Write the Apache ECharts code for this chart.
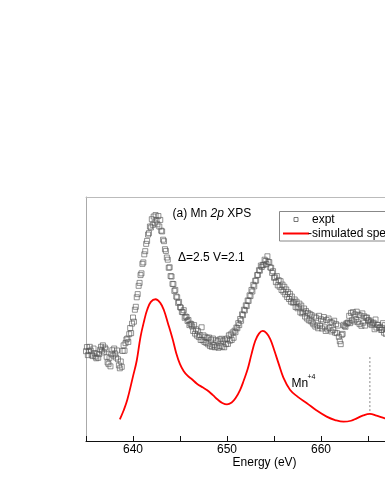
<!DOCTYPE html>
<html>
<head>
<meta charset="utf-8">
<script src="https://cdn.jsdelivr.net/npm/echarts@6/dist/echarts.min.js"></script>
<style>
html,body{margin:0;padding:0;overflow:hidden;background:#fff;}
#chart{width:460px;height:498px;}
</style>
</head>
<body>
<div id="chart"></div>
<script>
// Energy axis (eV)
const xMin = 635, xMax = 673, tickStep = 5;
// experimental spectrum: sampled every 0.1 eV starting at 635.0 eV
const exptStart = 635.0, exptStep = 0.1;
const exptIntensity = [
  36.8, 38.5, 35.2, 36.9, 38.6, 37.1, 35.4, 34.8, 37.9, 36.0,
  34.6, 33.9, 35.8, 34.1, 35.6, 37.4, 38.6, 37.0, 39.2, 36.3,
  38.3, 37.6, 34.5, 32.2, 31.5, 34.1, 30.6, 35.6, 37.2, 35.0,
  37.9, 35.8, 34.2, 37.1, 33.5, 31.0, 29.8, 32.6, 30.4, 36.9,
  39.2, 37.0, 40.1, 41.6, 42.0, 40.6, 43.8, 46.3, 44.2, 48.1,
  50.6, 48.9, 53.8, 55.0, 58.9, 60.2, 63.6, 64.8, 68.0, 68.7,
  72.6, 73.2, 76.5, 77.8, 80.8, 82.0, 84.6, 85.2, 87.9, 87.5,
  90.9, 88.6, 92.0, 89.5, 92.6, 90.4, 88.8, 92.2, 87.9, 90.6,
  86.2, 85.9, 82.5, 81.9, 78.6, 77.9, 75.2, 74.3, 71.0, 71.2,
  67.6, 67.4, 64.4, 64.3, 61.5, 61.9, 59.2, 58.9, 56.6, 57.0,
  54.9, 54.6, 52.9, 52.8, 53.6, 50.5, 51.0, 50.8, 49.2, 49.6,
  47.5, 48.1, 47.9, 46.9, 45.1, 47.5, 44.0, 45.8, 43.2, 45.1,
  42.6, 43.5, 41.4, 46.6, 41.3, 43.3, 40.6, 42.7, 40.2, 42.3,
  39.6, 42.4, 38.9, 41.5, 38.6, 42.0, 39.3, 38.4, 41.3, 38.7,
  40.9, 38.2, 41.6, 38.9, 41.9, 38.6, 41.1, 38.4, 41.6, 39.7,
  42.0, 39.8, 43.3, 41.1, 43.7, 41.4, 44.5, 42.3, 45.2, 44.6,
  46.5, 46.2, 48.3, 47.5, 50.0, 49.3, 51.9, 51.6, 53.8, 53.5,
  55.6, 55.3, 57.6, 57.4, 59.7, 59.4, 61.9, 61.3, 64.0, 63.4,
  65.7, 65.7, 68.0, 68.1, 70.0, 69.8, 71.9, 71.3, 72.2, 72.1,
  74.3, 73.8, 72.5, 75.7, 73.4, 73.3, 71.1, 71.0, 68.9, 69.6,
  66.9, 67.1, 65.1, 67.6, 63.8, 65.9, 63.2, 65.5, 61.9, 64.1,
  61.2, 63.2, 60.1, 62.1, 59.0, 61.0, 58.2, 60.3, 57.1, 59.2,
  56.7, 56.9, 58.0, 54.9, 57.1, 54.4, 55.0, 56.3, 52.7, 55.5,
  52.3, 52.8, 54.3, 51.0, 53.3, 50.2, 52.5, 49.5, 52.1, 49.1,
  51.6, 48.5, 47.8, 51.0, 46.9, 50.5, 47.4, 46.2, 51.3, 47.2,
  49.9, 46.1, 49.3, 50.8, 46.6, 45.1, 49.6, 45.7, 50.2, 46.3,
  48.8, 44.9, 48.5, 45.5, 49.3, 44.4, 47.9, 44.2, 47.3, 42.7,
  40.9, 39.7, 43.5, 43.9, 47.6, 47.1, 46.8, 48.2, 48.2, 48.6,
  51.3, 48.3, 52.5, 49.5, 52.8, 49.0, 51.9, 49.8, 53.0, 48.7,
  51.7, 47.9, 51.4, 47.2, 52.3, 48.5, 51.1, 47.3, 50.5, 50.6,
  49.4, 49.5, 48.1, 48.9, 47.5, 48.2, 48.5, 45.8, 49.8, 46.5,
  47.6, 47.5, 46.3, 46.7, 45.5, 45.6, 48.3, 44.4, 47.5, 43.9,
  46.0, 47.3, 45.2, 46.6, 44.9, 46.1, 45.5, 47.0, 44.7, 45.9,
  45.4, 46.8, 44.6, 45.9, 46.3, 44.2, 45.7, 46.5, 44.9, 45.3
];
// simulated spectrum
const simEnergy = [
  638.6, 639.0, 639.4, 640.0, 640.4, 640.8, 641.2, 641.5, 641.9, 642.4,
  642.9, 643.3, 643.7, 644.2, 644.6, 645.0, 645.4, 645.8, 646.3, 646.8,
  647.4, 647.9, 648.5, 649.0, 649.5, 650.0, 650.5, 650.9, 651.4, 651.8,
  652.2, 652.6, 653.0, 653.4, 653.8, 654.2, 654.6, 655.0, 655.5, 656.0,
  656.7, 657.5, 658.5, 659.5, 660.6, 661.5, 662.4, 663.2, 663.8, 664.5,
  665.2, 665.9, 666.8, 667.8, 669.0, 670.5, 672.0
];
const simIntensity = [
  8.9, 12.5, 17.0, 26.5, 33.0, 42.7, 49.5, 53.7, 57.0, 58.1,
  56.6, 53.5, 48.5, 42.0, 36.0, 31.5, 28.6, 26.8, 25.2, 23.5,
  22.0, 20.8, 18.8, 17.0, 15.6, 15.0, 15.8, 17.5, 21.0, 25.0,
  29.5, 35.5, 41.0, 44.0, 45.1, 44.2, 41.8, 37.5, 31.6, 26.0,
  21.0, 18.2, 15.5, 12.6, 10.0, 8.6, 7.9, 8.3, 9.3, 10.5,
  11.1, 10.4, 9.3, 8.5, 8.2, 8.4, 8.6
];
// Mn+4 marker (dashed vertical line)
const markerEnergy = 665.2;
const markerRange = [34.4, 11.1];

const exptData = exptIntensity.map((v, i) => [+(exptStart + i * exptStep).toFixed(2), v]);
const simData = simEnergy.map((e, i) => [e, simIntensity[i]]);
const markerData = markerRange.map(v => [markerEnergy, v]);

const FONT = 'Liberation Sans, Arial, sans-serif';
const chart = echarts.init(document.getElementById('chart'), null, {renderer: 'canvas'});
chart.setOption({
  animation: false,
  backgroundColor: '#fff',
  grid: {left: 86, top: 197, width: 357.2, bottom: 57},
  xAxis: [{
    type: 'value', min: xMin, max: xMax, interval: tickStep,
    name: 'Energy (eV)', nameLocation: 'middle', nameGap: 8,
    nameTextStyle: {fontFamily: FONT, fontSize: 12, color: '#000'},
    axisLine: {show: true, lineStyle: {color: '#111', width: 1}},
    axisTick: {show: true, inside: true, length: 5, lineStyle: {color: '#111'}},
    axisLabel: {
      fontFamily: FONT, fontSize: 12, color: '#000', margin: 3,
      formatter: v => (v % 10 === 0 ? String(v) : '')
    },
    splitLine: {show: false}
  }, {
    type: 'value', position: 'top', min: xMin, max: xMax,
    axisLine: {show: true, lineStyle: {color: '#bbb', width: 1}},
    axisTick: {show: false}, axisLabel: {show: false}, splitLine: {show: false}
  }],
  yAxis: {
    type: 'value', min: 0, max: 100,
    axisLine: {show: true, lineStyle: {color: '#aaa', width: 1}},
    axisTick: {show: false}, axisLabel: {show: false}, splitLine: {show: false}
  },
  series: [{
    name: 'expt', type: 'scatter', data: exptData,
    symbol: 'rect', symbolSize: 5,
    itemStyle: {color: 'rgba(0,0,0,0)', borderColor: '#555', borderWidth: 0.8},
    z: 3
  }, {
    name: 'simulated spectra', type: 'line', data: simData,
    smooth: 0.4, symbol: 'none',
    lineStyle: {color: '#ff0000', width: 1.8},
    z: 4
  }, {
    name: 'marker', type: 'line', data: markerData, symbol: 'none',
    lineStyle: {color: '#888', width: 1, type: [2, 2]}, z: 2
  }],
  graphic: [
    {type: 'text', left: 172.5, top: 208, style: {
      text: '(a) Mn {i|2p} XPS', fontFamily: FONT, fontSize: 12, fill: '#000',
      rich: {i: {fontStyle: 'italic', fontFamily: FONT, fontSize: 12, fill: '#000'}}
    }},
    {type: 'text', left: 178, top: 252, style: {
      text: '\u0394=2.5 V=2.1', fontFamily: FONT, fontSize: 12, fill: '#000'
    }},
    {type: 'text', left: 291.5, top: 378, style: {
      text: 'Mn', fontFamily: FONT, fontSize: 12, fill: '#000'
    }},
    {type: 'text', left: 307.5, top: 374, style: {
      text: '+4', fontFamily: FONT, fontSize: 7, fill: '#000'
    }},
    // legend box
    {type: 'rect', shape: {x: 279.5, y: 211.5, width: 170, height: 29.5},
      style: {fill: '#fff', stroke: '#888', lineWidth: 1}, z: 10},
    {type: 'rect', shape: {x: 294, y: 217.5, width: 4, height: 4},
      style: {fill: 'none', stroke: '#555', lineWidth: 0.8}, z: 11},
    {type: 'text', left: 312, top: 214, z: 11, style: {
      text: 'expt', fontFamily: FONT, fontSize: 12, fill: '#000'
    }},
    {type: 'line', shape: {x1: 283, y1: 233.5, x2: 309, y2: 233.5},
      style: {stroke: '#ff0000', lineWidth: 2}, z: 11},
    {type: 'text', left: 308, top: 227.5, z: 11, style: {
      text: '-simulated spectra', fontFamily: FONT, fontSize: 12, fill: '#000'
    }}
  ]
});
</script>
</body>
</html>
